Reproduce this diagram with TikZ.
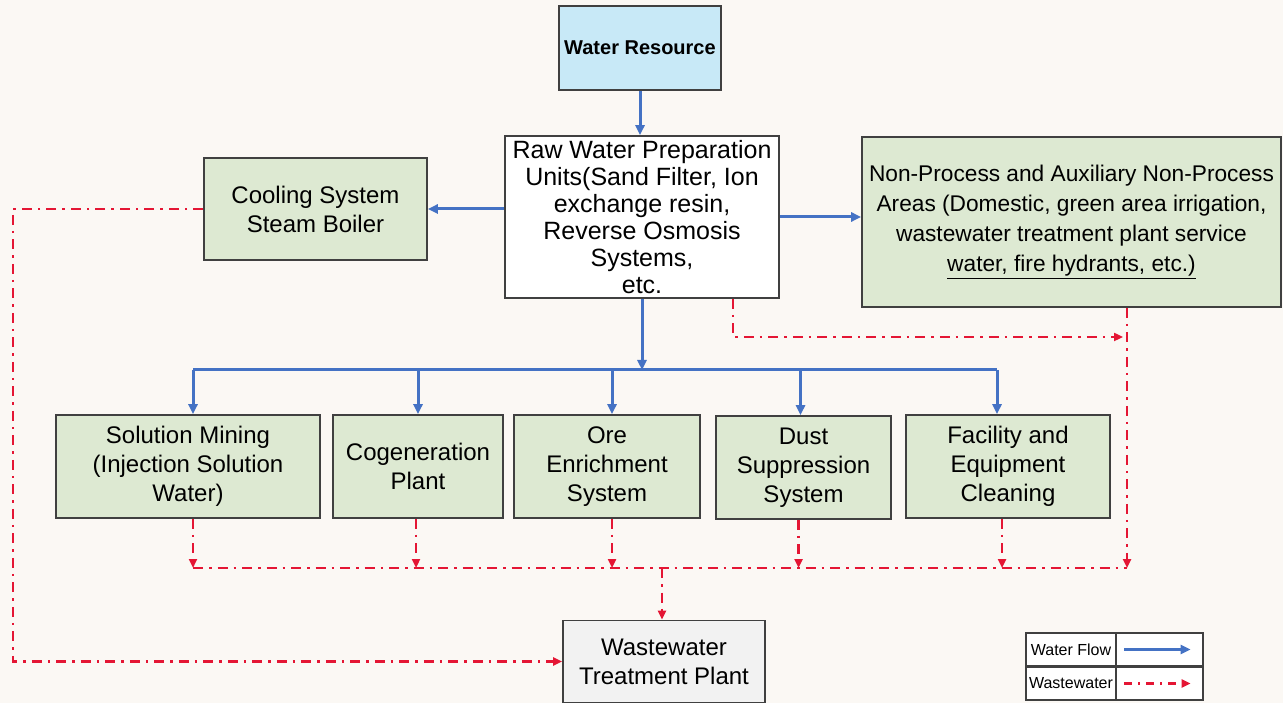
\documentclass[tikz,border=0pt]{standalone}
\usepackage{fontspec}
\setmainfont{Liberation Sans}
\usetikzlibrary{arrows.meta}
\definecolor{bgcream}{RGB}{251,248,244}
\definecolor{boxgreen}{RGB}{221,233,210}
\definecolor{boxblue}{RGB}{200,233,247}
\definecolor{boxgray}{RGB}{242,242,242}
\definecolor{boxline}{RGB}{64,64,64}
\definecolor{flowblue}{RGB}{68,114,196}
\definecolor{wastered}{RGB}{228,22,52}
\tikzset{
  box/.style={draw=boxline, line width=1.6pt, fill=boxgreen, align=center, inner sep=0pt,
    font=\fontsize{24}{29}\selectfont},
  flow/.style={draw=flowblue, line width=3pt, -{Triangle[length=10pt,width=9pt]}},
  waste/.style={draw=wastered, line width=2.6pt, dash pattern=on 10pt off 6pt on 2.5pt off 6pt,
    -{Triangle[length=9pt,width=8pt]}},
  legcell/.style={draw=boxline, line width=1.3pt, fill=white, inner sep=0pt,
    minimum width=#1, minimum height=33pt, font=\fontsize{16}{18}\selectfont},
}
\begin{document}
\begin{tikzpicture}[x=1pt,y=-1pt]
\fill[bgcream] (0,0) rectangle (1283,703);
\useasboundingbox (0,0) rectangle (1283,703);
% sources and preparation
\node[box, fill=boxblue, minimum width=162pt, minimum height=84pt,
  font=\fontsize{20}{24}\selectfont\bfseries] (res) at (640,48) {Water Resource};
\node[box, fill=white, minimum width=274pt, minimum height=162pt,
  font=\fontsize{25}{27}\selectfont] (raw) at (642,217)
  {Raw Water Preparation\\Units(Sand Filter, Ion\\exchange resin,\\Reverse Osmosis\\Systems,\\etc.};
\node[box, minimum width=223pt, minimum height=102pt] (cool) at (315.5,209)
  {Cooling System\\Steam Boiler};
\node[box, minimum width=419pt, minimum height=170pt,
  font=\fontsize{22.7}{30}\selectfont] (nonp) at (1071.5,222)
  {Non-Process and Auxiliary Non-Process\\Areas (Domestic, green area irrigation,\\wastewater treatment plant service\\\underline{water, fire hydrants, etc.)}};
% consumers
\node[box, minimum width=264pt, minimum height=103pt] (sm) at (188,466.5)
  {Solution Mining\\(Injection Solution\\Water)};
\node[box, minimum width=170pt, minimum height=103pt] (cog) at (418,466.5)
  {Cogeneration\\Plant};
\node[box, minimum width=186pt, minimum height=103pt] (ore) at (607,466.5)
  {Ore\\Enrichment\\System};
\node[box, minimum width=175pt, minimum height=103pt] (dust) at (803.5,467.5)
  {Dust\\Suppression\\System};
\node[box, minimum width=204pt, minimum height=103pt] (fac) at (1008,466.5)
  {Facility and\\Equipment\\Cleaning};
\node[box, fill=boxgray, minimum width=202pt, minimum height=82pt] (wwtp) at (664,661.5)
  {Wastewater\\Treatment Plant};
% junction points
\coordinate (bus) at (642,370);
\coordinate (col) at (1127,568);
\coordinate (jn) at (1127,337);
\coordinate (lft) at (13,400);
% water flow
\draw[flow] (res.south) -- (res.south |- raw.north);
\draw[flow] (raw.west |- cool.east) -- (cool.east);
\draw[flow] (raw.east) -- (raw.east -| nonp.west);
\draw[flow] (raw.south) -- (bus);
\draw[draw=flowblue, line width=3pt] ([xshift=5pt]sm.north |- bus) -- ([xshift=-11pt]fac.north |- bus);
\draw[flow] ([xshift=5pt]sm.north |- bus) -- ([xshift=5pt]sm.north);
\draw[flow] (cog.north |- bus) -- (cog.north);
\draw[flow] ([xshift=5pt]ore.north |- bus) -- ([xshift=5pt]ore.north);
\draw[flow] ([xshift=-3pt]dust.north |- bus) -- ([xshift=-3pt]dust.north);
\draw[flow] ([xshift=-11pt]fac.north |- bus) -- ([xshift=-11pt]fac.north);
% wastewater
\draw[waste] (cool.west) -- (cool.west -| lft) -- (lft |- wwtp.west) -- (wwtp.west);
\draw[waste, shorten >=4pt] ([xshift=91pt]raw.south) |- (jn);
\draw[waste] (jn |- nonp.south) -- (col);
\draw[waste] ([xshift=5pt]sm.south) -- ([xshift=5pt]sm.south |- col);
\draw[waste] ([xshift=-2pt]cog.south) -- ([xshift=-2pt]cog.south |- col);
\draw[waste] ([xshift=5pt]ore.south) -- ([xshift=5pt]ore.south |- col);
\draw[waste] ([xshift=-5pt]dust.south) -- ([xshift=-5pt]dust.south |- col);
\draw[waste] ([xshift=-6pt]fac.south) -- ([xshift=-6pt]fac.south |- col);
\draw[waste, -] ([xshift=5pt]sm.south |- col) -- (col);
\draw[waste] ([xshift=-2pt]wwtp.north |- col) -- ([xshift=-2pt]wwtp.north);
% legend
\node[legcell=90pt] (lgflow) at (1071,649.5) {Water Flow};
\node[legcell=87pt] (lgflowkey) at (1159.5,649.5) {};
\node[legcell=90pt] (lgwaste) at (1071,683.5) {Wastewater};
\node[legcell=87pt] (lgwastekey) at (1159.5,683.5) {};
\draw[flow, line width=2.4pt] ([xshift=9pt]lgflowkey.west) -- ([xshift=-13pt]lgflowkey.east);
\draw[waste, dash pattern=on 8pt off 6pt on 2pt off 6pt] ([xshift=9pt]lgwastekey.west) -- ([xshift=-13pt]lgwastekey.east);
\end{tikzpicture}
\end{document}
